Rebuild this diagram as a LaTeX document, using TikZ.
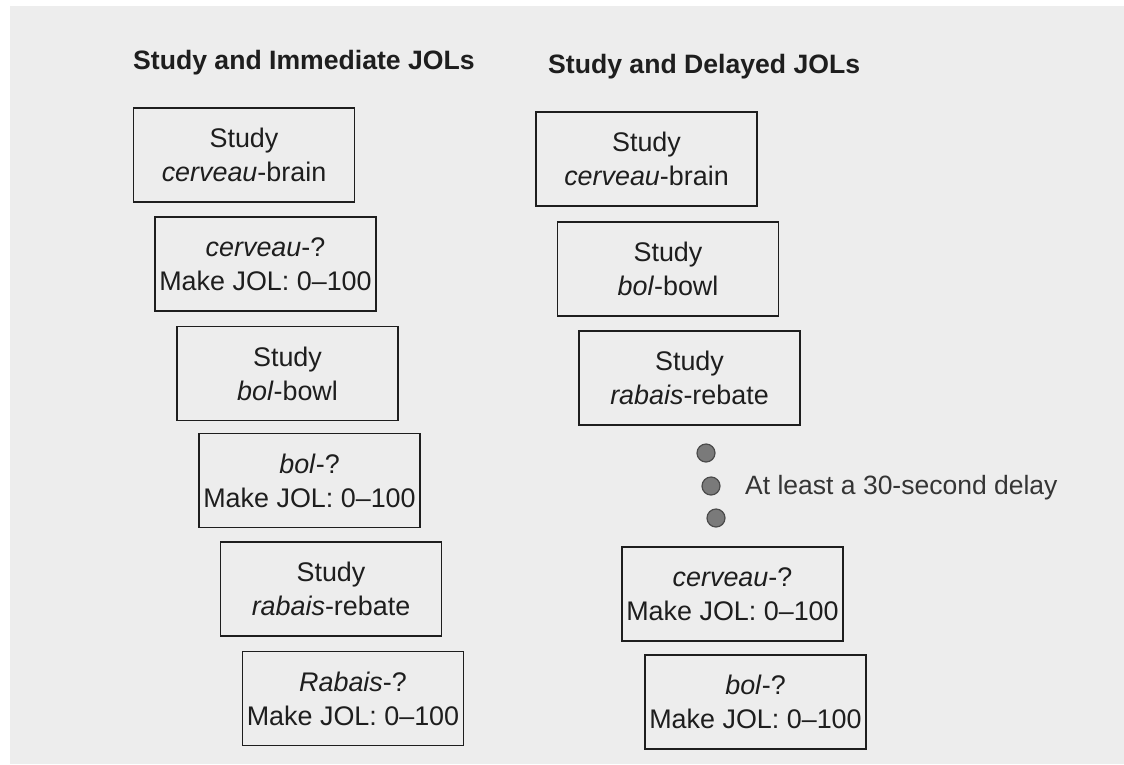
\documentclass[tikz,border=0pt]{standalone}
\usepackage{fontspec}
\setmainfont{Liberation Sans}
\definecolor{bg}{HTML}{EDEDED}
\definecolor{ink}{HTML}{1E1E1E}
\definecolor{dotfill}{HTML}{7A7A7A}
\begin{document}
\begin{tikzpicture}[x=1pt,y=-1pt,
  trial/.style={draw=ink, line width=1.4pt, minimum width=221pt, minimum height=94pt,
    inner sep=0pt, align=center, text=ink, font=\fontsize{26.9}{34}\selectfont},
  title/.style={anchor=west, inner sep=0pt, text=ink, font=\fontsize{26.6}{30}\selectfont\bfseries},
  dot/.style={circle, draw=ink!80, line width=1.2pt, fill=dotfill, minimum size=18pt, inner sep=0pt},
  note/.style={anchor=west, inner sep=0pt, text=ink!90, font=\fontsize{26.5}{30}\selectfont}]
\useasboundingbox (0,0) rectangle (1124,764);
\fill[white] (0,0) rectangle (1124,764);
\fill[bg] (10,6) rectangle (1124,764);
% titles
\node[title] (tL) at (133,63) {Study and Immediate JOLs};
\node[title] (tR) at (548,67) {Study and Delayed JOLs};
% left column
\node[trial] (L1) at (244,155) {Study\\\textit{cerveau}-brain};
\node[trial] (L2) at (265.5,264) {\textit{cerveau}-?\\Make JOL: 0--100};
\node[trial] (L3) at (287.5,373.5) {Study\\\textit{bol}-bowl};
\node[trial] (L4) at (309.5,480.5) {\textit{bol}-?\\Make JOL: 0--100};
\node[trial] (L5) at (331,589) {Study\\\textit{rabais}-rebate};
\node[trial] (L6) at (353,698.5) {\textit{Rabais}-?\\Make JOL: 0--100};
% right column
\node[trial] (R1) at (646.5,159) {Study\\\textit{cerveau}-brain};
\node[trial] (R2) at (668,269) {Study\\\textit{bol}-bowl};
\node[trial] (R3) at (689.5,378) {Study\\\textit{rabais}-rebate};
\node[dot] (d1) at (706,453) {};
\node[dot] (d2) at (711,486) {};
\node[dot] (d3) at (716,518) {};
\node[note] (delay) at (745,488) {At least a 30-second delay};
\node[trial] (R4) at (732.5,594) {\textit{cerveau}-?\\Make JOL: 0--100};
\node[trial] (R5) at (755.5,702) {\textit{bol}-?\\Make JOL: 0--100};
\end{tikzpicture}
\end{document}
